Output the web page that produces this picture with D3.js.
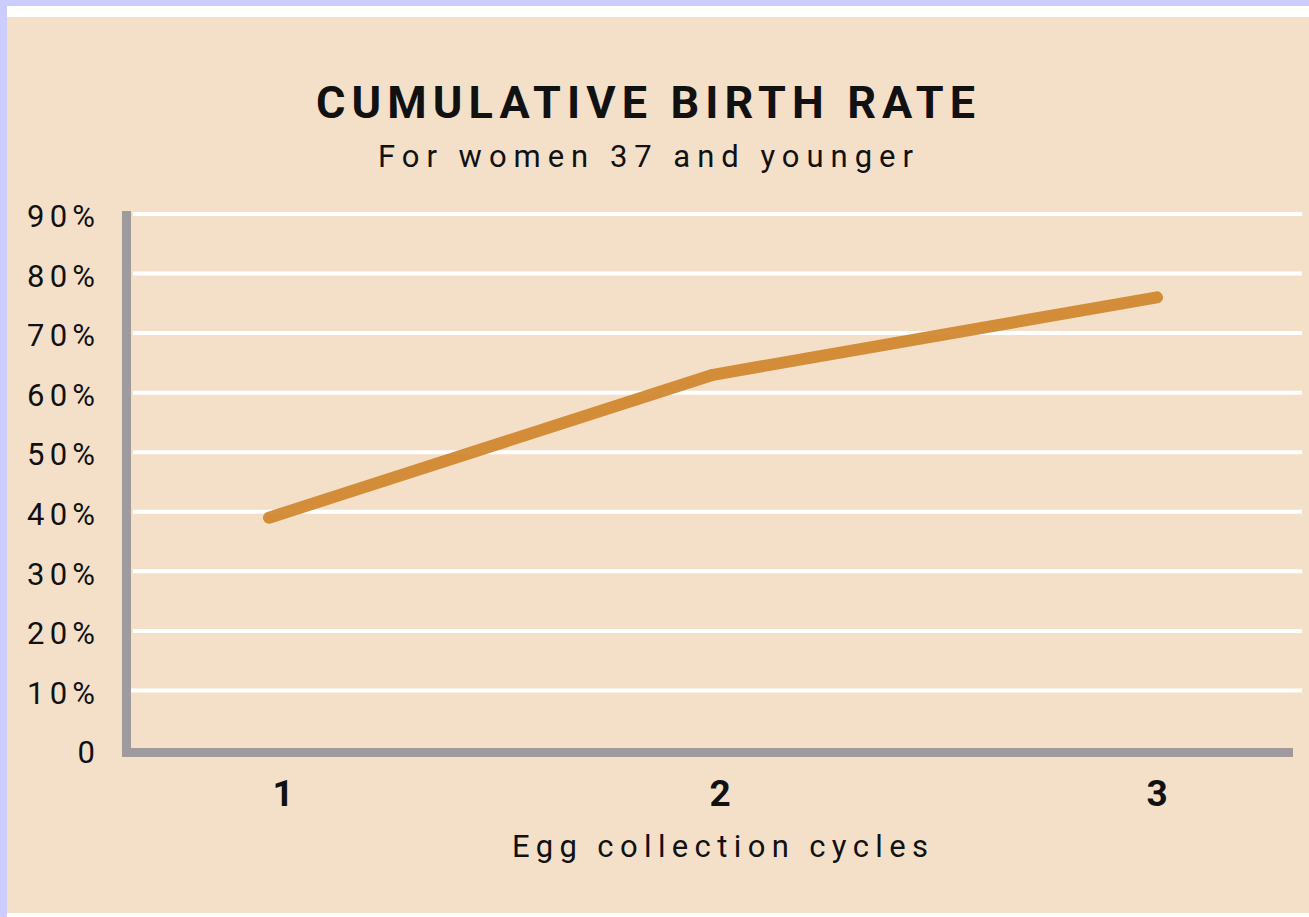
<!DOCTYPE html>
<meta charset="utf-8">
<style>
  body { margin: 0; background: #ccccff; }
  svg { display: block; }
  text { font-family: Roboto, "DejaVu Sans", sans-serif; fill: #111; }
</style>
<script src="https://d3js.org/d3.v7.min.js"></script>
<div id="chart"></div>
<script>

// data
var cycles = [1, 2, 3];
var birthRate = [39, 63, 76];
var yTicks = [0, 10, 20, 30, 40, 50, 60, 70, 80, 90];
var yTickLabels = ["0", "10%", "20%", "30%", "40%", "50%", "60%", "70%", "80%", "90%"];

var W = 1309, H = 917;

var svg = d3.select("#chart").append("svg")
    .attr("width", W)
    .attr("height", H);

// white frame + beige panel
svg.append("rect").attr("x", 7).attr("y", 6).attr("width", W - 7).attr("height", H - 6).attr("fill", "#ffffff");
svg.append("rect").attr("x", 7).attr("y", 17).attr("width", W - 7).attr("height", 896).attr("fill", "#f4e0c9");

// scales
var x = d3.scaleLinear().domain([1, 3]).range([269, 1157]);
var y = d3.scaleLinear().domain([0, 90]).range([750, 214]);

// gridlines
svg.append("g")
  .selectAll("line")
  .data(yTicks.filter(function (d) { return d > 0; }))
  .enter()
  .append("line")
    .attr("x1", function (d) { return d == 10 ? 129 : 133; })
    .attr("x2", 1302)
    .attr("y1", function (d) { return y(d); })
    .attr("y2", function (d) { return y(d); })
    .attr("stroke", "#ffffff")
    .attr("stroke-width", 4);

// y labels
svg.append("g")
  .selectAll("text")
  .data(yTicks)
  .enter()
  .append("text")
    .attr("x", 95)
    .attr("y", function (d) { return y(d) + 5; })
    .attr("text-anchor", "end")
    .attr("dominant-baseline", "middle")
    .attr("font-size", "31px")
    .attr("textLength", function (d) { return d > 0 ? 68 : null; })
    .attr("lengthAdjust", "spacing")
    .text(function (d, i) { return yTickLabels[i]; });

// axis bars
svg.append("rect").attr("x", 122).attr("y", 211).attr("width", 9).attr("height", 546).attr("fill", "#9f9a9d");
svg.append("rect").attr("x", 122).attr("y", 748).attr("width", 1171).attr("height", 9).attr("fill", "#9f9a9d");

// x labels
svg.append("g")
  .selectAll("text")
  .data(cycles)
  .enter()
  .append("text")
    .attr("x", function (d) { return x(d) + (d == 1 ? 14 : d == 2 ? 7 : 0); })
    .attr("y", 806)
    .attr("text-anchor", "middle")
    .attr("font-size", "37px")
    .attr("font-weight", "bold")
    .text(function (d) { return d; });

// line
var line = d3.line()
  .x(function (d, i) { return x(cycles[i]); })
  .y(function (d) { return y(d); });

svg.append("path")
  .datum(birthRate)
  .attr("d", line)
  .attr("fill", "none")
  .attr("stroke", "#cf852d")
  .attr("stroke-opacity", 0.92)
  .attr("stroke-width", 12)
  .attr("stroke-linecap", "round")
  .attr("stroke-linejoin", "round");

// titles
svg.append("text")
  .attr("x", 316).attr("y", 118)
  .attr("textLength", 659).attr("lengthAdjust", "spacing")
  .attr("font-size", "45px").attr("font-weight", "bold")
  .text("CUMULATIVE BIRTH RATE");

svg.append("text")
  .attr("x", 378).attr("y", 167)
  .attr("textLength", 535).attr("lengthAdjust", "spacing")
  .attr("font-size", "31px")
  .text("For women 37 and younger");

svg.append("text")
  .attr("x", 512).attr("y", 857)
  .attr("textLength", 416).attr("lengthAdjust", "spacing")
  .attr("font-size", "31px")
  .text("Egg collection cycles");

</script>
